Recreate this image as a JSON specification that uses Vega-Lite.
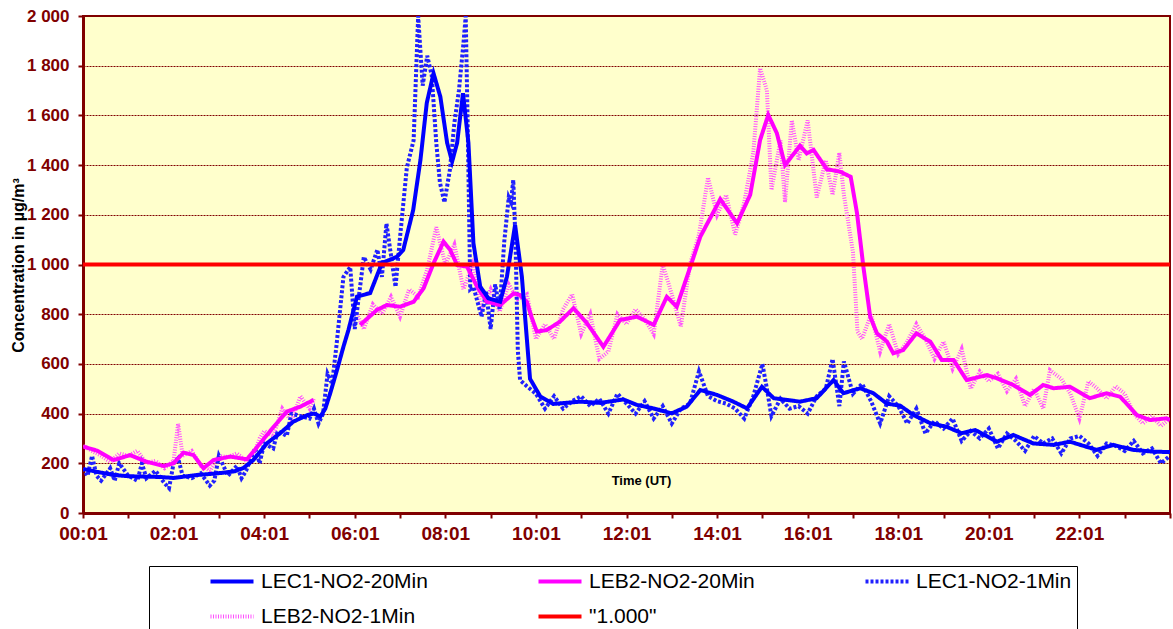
{
  "$schema": "https://vega.github.io/schema/vega-lite/v6.json",
  "width": 1087,
  "height": 497,
  "autosize": "none",
  "padding": {"left": 83, "top": 16, "right": 3, "bottom": 116},
  "background": "white",
  "config": {
    "view": {"fill": "#FFFFCC", "stroke": "#800000", "strokeWidth": 2},
    "font": "Liberation Sans"
  },
  "data": {"values": [
    {"s":"k","t":0.0,"v":270},{"s":"k","t":0.2,"v":250},{"s":"k","t":0.4,"v":230},{"s":"k","t":0.6,"v":205},{"s":"k","t":0.8,"v":240},{"s":"k","t":1.0,"v":230},{"s":"k","t":1.2,"v":250},{"s":"k","t":1.4,"v":200},{"s":"k","t":1.6,"v":210},{"s":"k","t":1.8,"v":180},{"s":"k","t":2.0,"v":210},{"s":"k","t":2.1,"v":360},{"s":"k","t":2.2,"v":230},{"s":"k","t":2.4,"v":250},{"s":"k","t":2.6,"v":190},{"s":"k","t":2.8,"v":170},{"s":"k","t":3.0,"v":230},{"s":"k","t":3.2,"v":225},{"s":"k","t":3.4,"v":240},{"s":"k","t":3.6,"v":210},{"s":"k","t":3.8,"v":250},{"s":"k","t":3.9,"v":300},{"s":"k","t":4.0,"v":330},{"s":"k","t":4.2,"v":310},{"s":"k","t":4.4,"v":420},{"s":"k","t":4.6,"v":370},{"s":"k","t":4.8,"v":470},{"s":"k","t":5.0,"v":420},{"s":"k","t":5.1,"v":460},{"s":"k","t":5.5,"v":null},{"s":"k","t":6.05,"v":800},{"s":"k","t":6.2,"v":740},{"s":"k","t":6.4,"v":840},{"s":"k","t":6.6,"v":800},{"s":"k","t":6.8,"v":870},{"s":"k","t":7.0,"v":790},{"s":"k","t":7.2,"v":900},{"s":"k","t":7.4,"v":870},{"s":"k","t":7.6,"v":980},{"s":"k","t":7.8,"v":1150},{"s":"k","t":8.0,"v":1000},{"s":"k","t":8.2,"v":1080},{"s":"k","t":8.4,"v":900},{"s":"k","t":8.6,"v":1000},{"s":"k","t":8.8,"v":820},{"s":"k","t":9.0,"v":900},{"s":"k","t":9.2,"v":810},{"s":"k","t":9.4,"v":920},{"s":"k","t":9.6,"v":860},{"s":"k","t":9.8,"v":880},{"s":"k","t":10.0,"v":700},{"s":"k","t":10.2,"v":760},{"s":"k","t":10.4,"v":700},{"s":"k","t":10.6,"v":820},{"s":"k","t":10.8,"v":880},{"s":"k","t":11.0,"v":720},{"s":"k","t":11.2,"v":800},{"s":"k","t":11.4,"v":620},{"s":"k","t":11.6,"v":650},{"s":"k","t":11.8,"v":800},{"s":"k","t":12.0,"v":760},{"s":"k","t":12.2,"v":820},{"s":"k","t":12.4,"v":780},{"s":"k","t":12.6,"v":720},{"s":"k","t":12.8,"v":1000},{"s":"k","t":13.0,"v":880},{"s":"k","t":13.2,"v":750},{"s":"k","t":13.4,"v":1000},{"s":"k","t":13.6,"v":1120},{"s":"k","t":13.8,"v":1350},{"s":"k","t":14.0,"v":1200},{"s":"k","t":14.2,"v":1280},{"s":"k","t":14.4,"v":1120},{"s":"k","t":14.6,"v":1250},{"s":"k","t":14.8,"v":1450},{"s":"k","t":14.95,"v":1790},{"s":"k","t":15.1,"v":1700},{"s":"k","t":15.2,"v":1300},{"s":"k","t":15.4,"v":1500},{"s":"k","t":15.5,"v":1250},{"s":"k","t":15.65,"v":1580},{"s":"k","t":15.8,"v":1420},{"s":"k","t":16.0,"v":1580},{"s":"k","t":16.2,"v":1270},{"s":"k","t":16.4,"v":1420},{"s":"k","t":16.55,"v":1280},{"s":"k","t":16.7,"v":1450},{"s":"k","t":16.8,"v":1280},{"s":"k","t":17.0,"v":1050},{"s":"k","t":17.1,"v":730},{"s":"k","t":17.2,"v":700},{"s":"k","t":17.4,"v":800},{"s":"k","t":17.6,"v":650},{"s":"k","t":17.8,"v":760},{"s":"k","t":18.0,"v":640},{"s":"k","t":18.2,"v":690},{"s":"k","t":18.4,"v":760},{"s":"k","t":18.6,"v":700},{"s":"k","t":18.8,"v":620},{"s":"k","t":19.0,"v":690},{"s":"k","t":19.2,"v":580},{"s":"k","t":19.4,"v":660},{"s":"k","t":19.6,"v":500},{"s":"k","t":19.8,"v":570},{"s":"k","t":20.0,"v":530},{"s":"k","t":20.2,"v":560},{"s":"k","t":20.4,"v":490},{"s":"k","t":20.6,"v":540},{"s":"k","t":20.8,"v":430},{"s":"k","t":21.0,"v":500},{"s":"k","t":21.2,"v":420},{"s":"k","t":21.35,"v":575},{"s":"k","t":21.6,"v":540},{"s":"k","t":21.8,"v":480},{"s":"k","t":22.0,"v":380},{"s":"k","t":22.2,"v":530},{"s":"k","t":22.4,"v":500},{"s":"k","t":22.6,"v":460},{"s":"k","t":22.8,"v":510},{"s":"k","t":23.0,"v":480},{"s":"k","t":23.2,"v":400},{"s":"k","t":23.4,"v":360},{"s":"k","t":23.6,"v":390},{"s":"k","t":23.8,"v":350},{"s":"k","t":24.0,"v":380},
    {"s":"l","t":0.0,"v":180},{"s":"l","t":0.1,"v":150},{"s":"l","t":0.2,"v":230},{"s":"l","t":0.3,"v":150},{"s":"l","t":0.4,"v":130},{"s":"l","t":0.6,"v":180},{"s":"l","t":0.7,"v":130},{"s":"l","t":0.8,"v":200},{"s":"l","t":1.0,"v":150},{"s":"l","t":1.2,"v":130},{"s":"l","t":1.3,"v":200},{"s":"l","t":1.4,"v":140},{"s":"l","t":1.6,"v":170},{"s":"l","t":1.8,"v":120},{"s":"l","t":1.9,"v":100},{"s":"l","t":2.0,"v":200},{"s":"l","t":2.1,"v":220},{"s":"l","t":2.2,"v":150},{"s":"l","t":2.4,"v":140},{"s":"l","t":2.6,"v":160},{"s":"l","t":2.8,"v":110},{"s":"l","t":2.9,"v":130},{"s":"l","t":3.0,"v":230},{"s":"l","t":3.2,"v":150},{"s":"l","t":3.4,"v":190},{"s":"l","t":3.5,"v":140},{"s":"l","t":3.6,"v":170},{"s":"l","t":3.8,"v":260},{"s":"l","t":3.9,"v":200},{"s":"l","t":4.0,"v":280},{"s":"l","t":4.2,"v":260},{"s":"l","t":4.3,"v":330},{"s":"l","t":4.5,"v":310},{"s":"l","t":4.6,"v":400},{"s":"l","t":4.8,"v":390},{"s":"l","t":5.0,"v":380},{"s":"l","t":5.1,"v":420},{"s":"l","t":5.2,"v":360},{"s":"l","t":5.3,"v":400},{"s":"l","t":5.4,"v":560},{"s":"l","t":5.5,"v":520},{"s":"l","t":5.6,"v":680},{"s":"l","t":5.75,"v":950},{"s":"l","t":5.9,"v":990},{"s":"l","t":6.0,"v":740},{"s":"l","t":6.2,"v":1030},{"s":"l","t":6.35,"v":980},{"s":"l","t":6.5,"v":1060},{"s":"l","t":6.6,"v":950},{"s":"l","t":6.7,"v":1165},{"s":"l","t":6.9,"v":910},{"s":"l","t":7.0,"v":1110},{"s":"l","t":7.15,"v":1390},{"s":"l","t":7.3,"v":1500},{"s":"l","t":7.4,"v":2000},{"s":"l","t":7.5,"v":1720},{"s":"l","t":7.6,"v":1840},{"s":"l","t":7.7,"v":1760},{"s":"l","t":7.8,"v":1490},{"s":"l","t":7.88,"v":1330},{"s":"l","t":7.98,"v":1250},{"s":"l","t":8.1,"v":1380},{"s":"l","t":8.2,"v":1570},{"s":"l","t":8.3,"v":1700},{"s":"l","t":8.4,"v":1890},{"s":"l","t":8.45,"v":2000},{"s":"l","t":8.5,"v":1490},{"s":"l","t":8.55,"v":900},{"s":"l","t":8.62,"v":910},{"s":"l","t":8.8,"v":790},{"s":"l","t":8.9,"v":890},{"s":"l","t":9.0,"v":740},{"s":"l","t":9.1,"v":920},{"s":"l","t":9.2,"v":820},{"s":"l","t":9.3,"v":1090},{"s":"l","t":9.4,"v":1270},{"s":"l","t":9.45,"v":1250},{"s":"l","t":9.5,"v":1340},{"s":"l","t":9.55,"v":1090},{"s":"l","t":9.6,"v":656},{"s":"l","t":9.65,"v":535},{"s":"l","t":9.8,"v":510},{"s":"l","t":10.0,"v":480},{"s":"l","t":10.2,"v":420},{"s":"l","t":10.4,"v":470},{"s":"l","t":10.6,"v":420},{"s":"l","t":10.8,"v":450},{"s":"l","t":11.0,"v":470},{"s":"l","t":11.2,"v":430},{"s":"l","t":11.4,"v":460},{"s":"l","t":11.6,"v":400},{"s":"l","t":11.8,"v":480},{"s":"l","t":12.0,"v":440},{"s":"l","t":12.2,"v":400},{"s":"l","t":12.4,"v":450},{"s":"l","t":12.6,"v":380},{"s":"l","t":12.8,"v":430},{"s":"l","t":13.0,"v":360},{"s":"l","t":13.2,"v":420},{"s":"l","t":13.4,"v":440},{"s":"l","t":13.6,"v":570},{"s":"l","t":13.8,"v":470},{"s":"l","t":14.0,"v":450},{"s":"l","t":14.2,"v":440},{"s":"l","t":14.4,"v":420},{"s":"l","t":14.6,"v":380},{"s":"l","t":14.8,"v":470},{"s":"l","t":15.0,"v":600},{"s":"l","t":15.1,"v":500},{"s":"l","t":15.2,"v":390},{"s":"l","t":15.4,"v":460},{"s":"l","t":15.6,"v":420},{"s":"l","t":15.8,"v":430},{"s":"l","t":16.0,"v":400},{"s":"l","t":16.2,"v":470},{"s":"l","t":16.4,"v":500},{"s":"l","t":16.55,"v":620},{"s":"l","t":16.7,"v":430},{"s":"l","t":16.8,"v":610},{"s":"l","t":17.0,"v":480},{"s":"l","t":17.2,"v":520},{"s":"l","t":17.4,"v":450},{"s":"l","t":17.6,"v":360},{"s":"l","t":17.8,"v":470},{"s":"l","t":18.0,"v":430},{"s":"l","t":18.2,"v":360},{"s":"l","t":18.4,"v":420},{"s":"l","t":18.6,"v":320},{"s":"l","t":18.8,"v":370},{"s":"l","t":19.0,"v":340},{"s":"l","t":19.2,"v":380},{"s":"l","t":19.4,"v":290},{"s":"l","t":19.6,"v":330},{"s":"l","t":19.8,"v":300},{"s":"l","t":20.0,"v":340},{"s":"l","t":20.2,"v":260},{"s":"l","t":20.4,"v":320},{"s":"l","t":20.6,"v":290},{"s":"l","t":20.8,"v":250},{"s":"l","t":21.0,"v":310},{"s":"l","t":21.2,"v":280},{"s":"l","t":21.4,"v":300},{"s":"l","t":21.6,"v":240},{"s":"l","t":21.8,"v":300},{"s":"l","t":22.0,"v":310},{"s":"l","t":22.2,"v":280},{"s":"l","t":22.4,"v":230},{"s":"l","t":22.6,"v":280},{"s":"l","t":22.8,"v":270},{"s":"l","t":23.0,"v":250},{"s":"l","t":23.2,"v":290},{"s":"l","t":23.4,"v":240},{"s":"l","t":23.6,"v":260},{"s":"l","t":23.8,"v":200},{"s":"l","t":24.0,"v":230},
    {"s":"m","t":0.01,"v":267},{"s":"m","t":0.31,"v":251},{"s":"m","t":0.68,"v":213},{"s":"m","t":1.04,"v":233},{"s":"m","t":1.41,"v":206},{"s":"m","t":1.78,"v":189},{"s":"m","t":2.0,"v":200},{"s":"m","t":2.22,"v":243},{"s":"m","t":2.44,"v":233},{"s":"m","t":2.66,"v":180},{"s":"m","t":2.88,"v":213},{"s":"m","t":3.25,"v":227},{"s":"m","t":3.62,"v":216},{"s":"m","t":3.91,"v":280},{"s":"m","t":4.21,"v":347},{"s":"m","t":4.5,"v":408},{"s":"m","t":4.8,"v":428},{"s":"m","t":5.09,"v":455},{"s":"m","t":5.6,"v":null},{"s":"m","t":6.12,"v":757},{"s":"m","t":6.49,"v":817},{"s":"m","t":6.71,"v":837},{"s":"m","t":7.0,"v":830},{"s":"m","t":7.3,"v":850},{"s":"m","t":7.52,"v":904},{"s":"m","t":7.74,"v":1005},{"s":"m","t":7.96,"v":1092},{"s":"m","t":8.11,"v":1058},{"s":"m","t":8.26,"v":998},{"s":"m","t":8.48,"v":991},{"s":"m","t":8.7,"v":911},{"s":"m","t":8.92,"v":850},{"s":"m","t":9.21,"v":837},{"s":"m","t":9.51,"v":884},{"s":"m","t":9.65,"v":877},{"s":"m","t":9.8,"v":850},{"s":"m","t":9.9,"v":790},{"s":"m","t":10.02,"v":730},{"s":"m","t":10.24,"v":736},{"s":"m","t":10.53,"v":770},{"s":"m","t":10.83,"v":824},{"s":"m","t":11.13,"v":763},{"s":"m","t":11.49,"v":669},{"s":"m","t":11.86,"v":777},{"s":"m","t":12.23,"v":790},{"s":"m","t":12.6,"v":757},{"s":"m","t":12.89,"v":870},{"s":"m","t":13.11,"v":830},{"s":"m","t":13.41,"v":991},{"s":"m","t":13.63,"v":1112},{"s":"m","t":14.07,"v":1263},{"s":"m","t":14.44,"v":1166},{"s":"m","t":14.73,"v":1280},{"s":"m","t":14.95,"v":1501},{"s":"m","t":15.13,"v":1602},{"s":"m","t":15.32,"v":1528},{"s":"m","t":15.5,"v":1400},{"s":"m","t":15.83,"v":1478},{"s":"m","t":15.98,"v":1447},{"s":"m","t":16.13,"v":1461},{"s":"m","t":16.42,"v":1384},{"s":"m","t":16.72,"v":1373},{"s":"m","t":16.95,"v":1353},{"s":"m","t":17.09,"v":1206},{"s":"m","t":17.23,"v":991},{"s":"m","t":17.38,"v":790},{"s":"m","t":17.53,"v":723},{"s":"m","t":17.75,"v":690},{"s":"m","t":17.89,"v":643},{"s":"m","t":18.11,"v":656},{"s":"m","t":18.4,"v":723},{"s":"m","t":18.71,"v":689},{"s":"m","t":18.96,"v":616},{"s":"m","t":19.22,"v":616},{"s":"m","t":19.51,"v":535},{"s":"m","t":19.96,"v":555},{"s":"m","t":20.18,"v":542},{"s":"m","t":20.54,"v":515},{"s":"m","t":20.91,"v":475},{"s":"m","t":21.2,"v":515},{"s":"m","t":21.43,"v":502},{"s":"m","t":21.79,"v":508},{"s":"m","t":22.23,"v":462},{"s":"m","t":22.6,"v":482},{"s":"m","t":22.9,"v":468},{"s":"m","t":23.27,"v":394},{"s":"m","t":23.56,"v":374},{"s":"m","t":23.92,"v":381},{"s":"m","t":24.0,"v":375},
    {"s":"n","t":0.01,"v":177},{"s":"n","t":0.33,"v":165},{"s":"n","t":0.67,"v":153},{"s":"n","t":1.0,"v":148},{"s":"n","t":1.42,"v":146},{"s":"n","t":1.7,"v":145},{"s":"n","t":2.0,"v":141},{"s":"n","t":2.25,"v":147},{"s":"n","t":2.52,"v":153},{"s":"n","t":2.8,"v":157},{"s":"n","t":3.1,"v":162},{"s":"n","t":3.35,"v":168},{"s":"n","t":3.54,"v":181},{"s":"n","t":3.76,"v":213},{"s":"n","t":4.07,"v":282},{"s":"n","t":4.36,"v":322},{"s":"n","t":4.64,"v":367},{"s":"n","t":4.95,"v":394},{"s":"n","t":5.1,"v":400},{"s":"n","t":5.24,"v":388},{"s":"n","t":5.35,"v":420},{"s":"n","t":5.46,"v":483},{"s":"n","t":5.6,"v":570},{"s":"n","t":5.75,"v":669},{"s":"n","t":5.86,"v":736},{"s":"n","t":6.05,"v":871},{"s":"n","t":6.34,"v":885},{"s":"n","t":6.6,"v":1006},{"s":"n","t":6.93,"v":1031},{"s":"n","t":7.07,"v":1058},{"s":"n","t":7.29,"v":1219},{"s":"n","t":7.45,"v":1420},{"s":"n","t":7.59,"v":1650},{"s":"n","t":7.74,"v":1769},{"s":"n","t":7.89,"v":1675},{"s":"n","t":8.04,"v":1489},{"s":"n","t":8.15,"v":1414},{"s":"n","t":8.26,"v":1489},{"s":"n","t":8.39,"v":1689},{"s":"n","t":8.51,"v":1489},{"s":"n","t":8.62,"v":1086},{"s":"n","t":8.77,"v":911},{"s":"n","t":8.95,"v":864},{"s":"n","t":9.21,"v":850},{"s":"n","t":9.36,"v":951},{"s":"n","t":9.54,"v":1159},{"s":"n","t":9.69,"v":951},{"s":"n","t":9.8,"v":700},{"s":"n","t":9.87,"v":540},{"s":"n","t":10.1,"v":468},{"s":"n","t":10.38,"v":439},{"s":"n","t":10.98,"v":448},{"s":"n","t":11.42,"v":443},{"s":"n","t":11.93,"v":457},{"s":"n","t":12.23,"v":435},{"s":"n","t":12.59,"v":421},{"s":"n","t":13.0,"v":401},{"s":"n","t":13.33,"v":428},{"s":"n","t":13.63,"v":495},{"s":"n","t":14.0,"v":475},{"s":"n","t":14.36,"v":448},{"s":"n","t":14.66,"v":421},{"s":"n","t":14.99,"v":508},{"s":"n","t":15.25,"v":462},{"s":"n","t":15.54,"v":455},{"s":"n","t":15.83,"v":448},{"s":"n","t":16.2,"v":462},{"s":"n","t":16.57,"v":535},{"s":"n","t":16.79,"v":482},{"s":"n","t":17.16,"v":502},{"s":"n","t":17.45,"v":482},{"s":"n","t":17.75,"v":440},{"s":"n","t":18.04,"v":432},{"s":"n","t":18.34,"v":394},{"s":"n","t":18.71,"v":361},{"s":"n","t":19.07,"v":347},{"s":"n","t":19.4,"v":321},{"s":"n","t":19.7,"v":334},{"s":"n","t":20.18,"v":287},{"s":"n","t":20.54,"v":314},{"s":"n","t":20.98,"v":280},{"s":"n","t":21.43,"v":274},{"s":"n","t":21.79,"v":287},{"s":"n","t":22.38,"v":254},{"s":"n","t":22.75,"v":274},{"s":"n","t":23.19,"v":254},{"s":"n","t":23.63,"v":247},{"s":"n","t":24.0,"v":245},
    {"s":"o","t":0,"v":1000},{"s":"o","t":24,"v":1000}
  ]},
  "encoding": {
    "x": {
      "field": "t", "type": "quantitative",
      "scale": {"domain": [0, 24], "nice": false, "zero": false},
      "axis": {
        "values": [0,1,2,3,4,5,6,7,8,9,10,11,12,13,14,15,16,17,18,19,20,21,22,23,24],
        "labelExpr": "(datum.value % 2 == 0 && datum.value < 24) ? ((datum.value < 10 ? '0' : '') + datum.value + ':01') : ''",
        "labelOverlap": false, "labelFlush": false,
        "grid": false,
        "domainColor": "#800000", "domainWidth": 3,
        "tickColor": "#800000", "tickWidth": 2, "tickSize": 5,
        "labelColor": "#800000", "labelFont": "Liberation Sans", "labelFontWeight": "bold", "labelFontSize": 19, "labelPadding": 6,
        "title": "Time (UT)", "titleFont": "Liberation Sans", "titleFontWeight": "bold", "titleFontSize": 13, "titleColor": "black",
        "titleX": 558, "titleY": -33, "titleBaseline": "middle"
      }
    },
    "y": {
      "field": "v", "type": "quantitative",
      "scale": {"domain": [0, 2000], "nice": false},
      "axis": {
        "values": [0,200,400,600,800,1000,1200,1400,1600,1800,2000],
        "labelExpr": "replace(format(datum.value, ','), ',', ' ')",
        "grid": true, "gridColor": "#800000", "gridWidth": 1, "gridDash": [2, 1],
        "domainColor": "#800000", "domainWidth": 3,
        "tickColor": "#800000", "tickWidth": 2, "tickSize": 5,
        "labelColor": "#800000", "labelFont": "Liberation Sans", "labelFontWeight": "bold", "labelFontSize": 17, "labelPadding": 9,
        "title": "Concentration in µg/m³", "titleFont": "Liberation Sans", "titleFontWeight": "bold", "titleFontSize": 16, "titleColor": "black",
        "titleX": -65, "titleY": 249, "titleAngle": 270, "titleAlign": "center", "titleBaseline": "middle"
      }
    },
    "color": {
      "field": "s", "type": "nominal",
      "scale": {"domain": ["n","m","l","k","o"], "range": ["#0000FF","#FF00FF","#2020FF","#FF50FF","#FF0000"]},
      "legend": {
        "orient": "none", "legendX": 66, "legendY": 550,
        "direction": "horizontal", "columns": 3, "title": null,
        "symbolType": "stroke", "symbolSize": 1850, "symbolOffset": 54, "clipHeight": 21,
        "labelExpr": "{'n':'LEC1-NO2-20Min','m':'LEB2-NO2-20Min','l':'LEC1-NO2-1Min','k':'LEB2-NO2-1Min','o':'\"1.000\"'}[datum.label]",
        "labelFont": "Liberation Sans", "labelFontSize": 21, "labelColor": "black", "labelOffset": 5, "labelLimit": 400,
        "rowPadding": 13, "columnPadding": 54, "padding": 5,
        "strokeColor": "black", "fillColor": "white",
        "symbolStrokeWidth": 1,
        "encode": {"symbols": {"update": {
          "strokeWidth": {"signal": "(datum.value == 'n' || datum.value == 'm' || datum.value == 'o') ? 4 : 0.6"},
          "strokeDash": {"signal": "datum.value == 'l' ? [3, 1.5] : (datum.value == 'k' ? [1, 1] : [1, 0])"}
        }}}
      }
    },
    "strokeDash": {
      "field": "s", "type": "nominal",
      "scale": {"domain": ["n","m","l","k","o"], "range": [[1,0],[1,0],[3,2],[1,1.5],[1,0]]},
      "legend": null
    },
    "strokeWidth": {
      "field": "s", "type": "nominal",
      "scale": {"domain": ["n","m","l","k","o"], "range": [4,4,1.5,1,3.5]},
      "legend": null
    }
  },
  "layer": [
    {
      "transform": [{"filter": {"field": "s", "oneOf": ["k", "l"]}}],
      "mark": {"type": "line", "clip": true}
    },
    {
      "transform": [{"filter": {"field": "s", "oneOf": ["n", "m", "o"]}}],
      "mark": {"type": "line", "clip": true}
    }
  ]
}
